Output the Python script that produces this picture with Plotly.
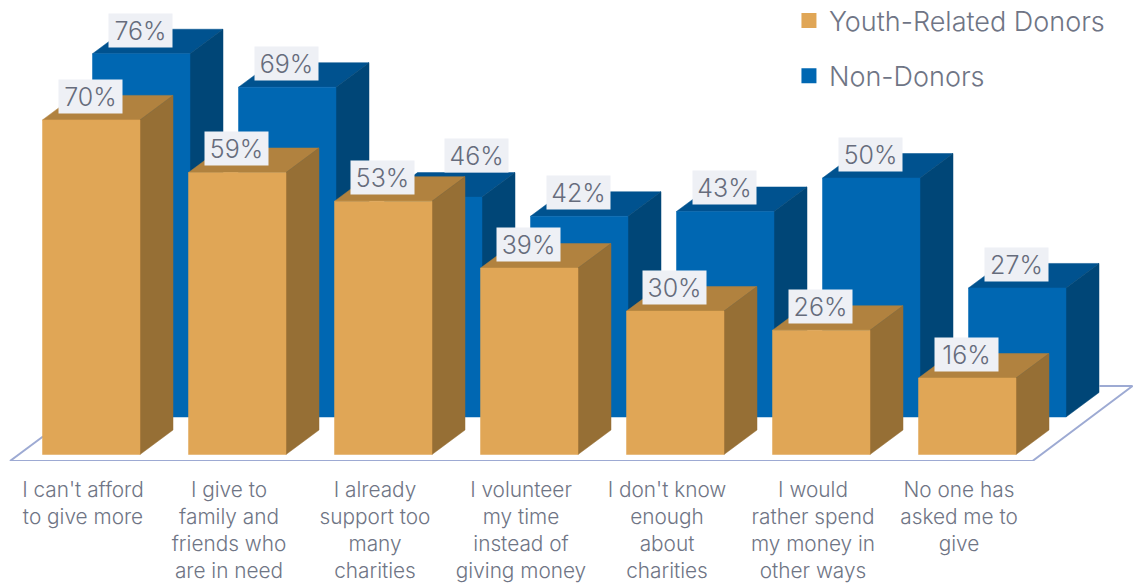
import numpy as np
import plotly.graph_objects as go

categories = [
    "I can't afford<br>to give more",
    "I give to<br>family and<br>friends who<br>are in need",
    "I already<br>support too<br>many<br>charities",
    "I volunteer<br>my time<br>instead of<br>giving money",
    "I don't know<br>enough<br>about<br>charities",
    "I would<br>rather spend<br>my money in<br>other ways",
    "No one has<br>asked me to<br>give",
]
youth_related = [70, 59, 53, 39, 30, 26, 16]
non_donors = [76, 69, 46, 42, 43, 50, 27]

# geometry (category units on x, percent units on y)
PX_X = 146.0
PX_Y = 4.78
W = 97.5 / PX_X
DX = 33 / PX_X
DY = 24.5 / PX_Y
BACK_X = 50 / PX_X
BACK_Y = 37.5 / PX_Y
LABEL_X = 15.5 / PX_X
LABEL_Y = 6 / PX_Y
TICK_X = 40.5 / PX_X
# the 46% label sits clear of the orange bar in front of it
label_shift_px = {"non": {2: (44, 18)}, "youth": {}}

FRONT = {"youth": "#E0A656", "non": "#0067B2"}
SIDE = {"youth": "#966F35", "non": "#004677"}
TOP = {"youth": "#B1823F", "non": "#00528F"}
TEXT = "#6F7585"
FLOOR = "#9DAAD3"
FONT = "Inter"


def faces(values, x0, y0):
    fx, fy, sx, sy, tx, ty = [], [], [], [], [], []
    for i, v in enumerate(values):
        l, r, b, t = i + x0, i + x0 + W, y0, y0 + v
        fx += [l, r, r, l, l, None]
        fy += [b, b, t, t, b, None]
        sx += [r, r + DX, r + DX, r, r, None]
        sy += [b, b + DY, t + DY, t, b, None]
        tx += [l, l + DX, r + DX, r, l, None]
        ty += [t, t + DY, t + DY, t, t, None]
    return (fx, fy), (sx, sy), (tx, ty)


fig = go.Figure()


def poly(xy, color):
    fig.add_trace(go.Scatter(x=xy[0], y=xy[1], mode="lines", fill="toself", fillcolor=color,
                             line=dict(width=0.5, color=color), hoverinfo="skip", showlegend=False))


# floor outline
n = len(categories)
fl, fr, fb = -32.5 / PX_X, n - 1 + (1032 - 918) / PX_X, -6.5 / PX_Y
fdx, fdy = 100 / PX_X, 75 / PX_Y
fig.add_trace(go.Scatter(
    x=[fl, fl + DX, None, fr + fdx - DX, fr + fdx, fr, fl],
    y=[fb, fb + DY, None, fb + fdy, fb + fdy, fb, fb],
    mode="lines", line=dict(color=FLOOR, width=2), hoverinfo="skip", showlegend=False))

for key, vals, x0, y0 in (("non", non_donors, BACK_X, BACK_Y), ("youth", youth_related, 0, 0)):
    f, s, t = faces(vals, x0, y0)
    poly(t, TOP[key])
    poly(s, SIDE[key])
    poly(f, FRONT[key])

for name, key in (("Youth-Related Donors", "youth"), ("Non-Donors", "non")):
    fig.add_trace(go.Scatter(x=[None], y=[None], mode="markers", name=name,
                             marker=dict(symbol="square", size=15, color=FRONT[key]),
                             legendgroup=name))

for key, vals, x0, y0 in (("non", non_donors, BACK_X, BACK_Y), ("youth", youth_related, 0, 0)):
    for i, v in enumerate(vals):
        sx, sy = label_shift_px[key].get(i, (0, 0))
        fig.add_annotation(x=i + x0 + LABEL_X, y=y0 + v + LABEL_Y, text=f"{v}%",
                           xanchor="left", yanchor="bottom", showarrow=False,
                           xshift=sx, yshift=sy, width=63, height=33, borderpad=0,
                           align="center", valign="middle", bgcolor="#EEF0F5",
                           font=dict(family=FONT, size=25, color="#666C7C", weight=300))

fig.update_layout(
    width=1136, height=583, autosize=False,
    margin=dict(l=0, r=0, t=0, b=122, pad=0, autoexpand=False),
    paper_bgcolor="white", plot_bgcolor="white",
    showlegend=True,
    legend=dict(x=0.6945, y=1.0076, xanchor="left", yanchor="top", tracegroupgap=17,
                bgcolor="rgba(0,0,0,0)",
                font=dict(family=FONT, size=27, color=TEXT, weight=300)),
    xaxis=dict(range=[-42.5 / PX_X, (1136 - 42.5) / PX_X], showgrid=False, zeroline=False,
               showline=False, ticks="", tickmode="array",
               tickvals=list(np.arange(n) + TICK_X), ticktext=categories,
               tickangle=0, ticklabelstandoff=14,
               tickfont=dict(family=FONT, size=20.8, color=TEXT, weight=300)),
    yaxis=dict(range=[-6.5 / PX_Y, 454.5 / PX_Y], visible=False),
)

fig.write_html("out.html", config={"displayModeBar": False},
               post_script="document.body.style.margin='0';")
